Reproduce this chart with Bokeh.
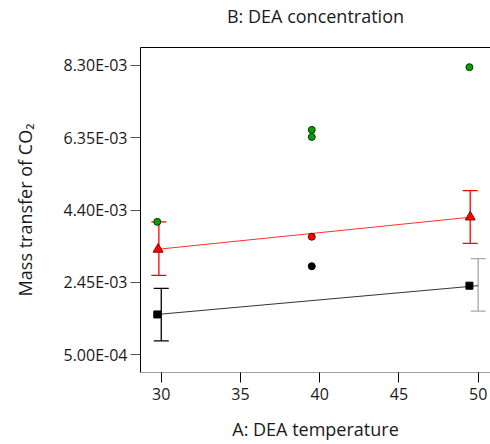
from bokeh.plotting import figure
from bokeh.models import (ColumnDataSource, Whisker, TeeHead, FixedTicker, LinearAxis, Range1d)
from bokeh.embed import file_html
from bokeh.resources import INLINE

# ---- data ----
x_ticks = [30, 35, 40, 45, 50]
y_ticks = [5.0e-4, 2.45e-3, 4.40e-3, 6.35e-3, 8.30e-3]
y_tick_labels = ["5.00E-04", "2.45E-03", "4.40E-03", "6.35E-03", "8.30E-03"]

green_x = [29.75, 39.5, 39.5, 49.45]
green_y = [4.08e-3, 6.56e-3, 6.37e-3, 8.25e-3]

red_pt_x = [39.5]
red_pt_y = [3.68e-3]
black_pt_x = [39.5]
black_pt_y = [2.885e-3]

tri_x = [29.8, 49.5]
tri_y = [3.34e-3, 4.21e-3]
sq_x = [29.75, 49.45]
sq_y = [1.585e-3, 2.36e-3]

red_line_x = [29.75, 49.6]
red_line_y = [3.34e-3, 4.21e-3]
black_line_x = [29.75, 50.0]
black_line_y = [1.585e-3, 2.36e-3]

red_err_x = [29.85, 49.5]
red_err_up = [4.08e-3, 4.92e-3]
red_err_lo = [2.64e-3, 3.50e-3]
black_err_x = [30.0]
black_err_up = [2.29e-3]
black_err_lo = [0.87e-3]
gray_err_x = [50.0]
gray_err_up = [3.09e-3]
gray_err_lo = [1.675e-3]

FONT = "Open Sans"
TXT = "#1a1a1a"

p = figure(width=490, height=444, output_backend="svg", toolbar_location=None,
           x_range=Range1d(28.69, 50.78), y_range=Range1d(0.00002, 0.00878),
           min_border_left=140, min_border_right=0, min_border_top=46, min_border_bottom=72,
           x_axis_label="A: DEA temperature", y_axis_label="Mass transfer of CO₂")
p.outline_line_color = None
p.grid.visible = False
p.background_fill_color = "white"
p.border_fill_color = "white"

# x axis
xa = p.xaxis[0]
xa.ticker = FixedTicker(ticks=x_ticks)
xa.minor_tick_line_color = None
xa.major_tick_in = 0
xa.major_tick_out = 10
xa.axis_line_color = "#a0a0a0"
xa.major_tick_line_color = "black"
xa.major_label_text_font = FONT
xa.major_label_text_font_size = "16px"
xa.major_label_text_color = TXT
xa.major_label_standoff = 5
xa.axis_label_text_font = FONT
xa.axis_label_text_font_size = "18px"
xa.axis_label_text_font_style = "normal"
xa.axis_label_text_color = TXT
xa.axis_label_standoff = 14

# y axis
ya = p.yaxis[0]
ya.ticker = FixedTicker(ticks=y_ticks)
ya.major_label_overrides = {t: l for t, l in zip(y_ticks, y_tick_labels)}
ya.minor_tick_line_color = None
ya.major_tick_in = 0
ya.major_tick_out = 10
ya.axis_line_color = "black"
ya.major_tick_line_color = "#555555"
ya.major_label_text_font = FONT
ya.major_label_text_font_size = "16px"
ya.major_label_text_color = TXT
ya.major_label_standoff = 3
ya.axis_label_text_font = FONT
ya.axis_label_text_font_size = "18px"
ya.axis_label_text_font_style = "normal"
ya.axis_label_text_color = TXT
ya.axis_label_standoff = 24

# top axis as title line
top = LinearAxis(axis_label="B: DEA concentration", ticker=FixedTicker(ticks=[]))
top.axis_line_color = "black"
top.major_tick_line_color = None
top.minor_tick_line_color = None
top.major_label_text_font_size = "0px"
top.axis_label_text_font = FONT
top.axis_label_text_font_size = "18px"
top.axis_label_text_font_style = "normal"
top.axis_label_text_color = TXT
top.axis_label_standoff = 20
p.add_layout(top, "above")

# lines
p.line(red_line_x, red_line_y, line_color="#ff3030", line_width=1)
p.line(black_line_x, black_line_y, line_color="#333333", line_width=1)

# error bars
def add_err(xs, ups, los, color, size=15):
    src = ColumnDataSource(dict(x=xs, upper=ups, lower=los))
    w = Whisker(source=src, base="x", upper="upper", lower="lower", dimension="height",
                line_color=color, line_width=1.3,
                upper_head=TeeHead(size=size, line_color=color, line_width=1.3),
                lower_head=TeeHead(size=size, line_color=color, line_width=1.3))
    p.add_layout(w)

add_err(red_err_x, red_err_up, red_err_lo, "#ff0000")
add_err(black_err_x, black_err_up, black_err_lo, "#000000")
add_err(gray_err_x, gray_err_up, gray_err_lo, "#a8a8a8")

# markers
p.scatter(green_x, green_y, marker="circle", size=7, fill_color="#0a9a0a", line_color="#004000")
p.scatter(red_pt_x, red_pt_y, marker="circle", size=7, fill_color="#ff0000", line_color="#700000")
p.scatter(black_pt_x, black_pt_y, marker="circle", size=7, fill_color="#000000", line_color="#000000")
p.scatter(tri_x, tri_y, marker="triangle", size=10, fill_color="#ff0000", line_color="#900000")
p.scatter(sq_x, sq_y, marker="square", size=7, fill_color="#000000", line_color="#000000")

open("out.html", "w").write(file_html(p, INLINE))
